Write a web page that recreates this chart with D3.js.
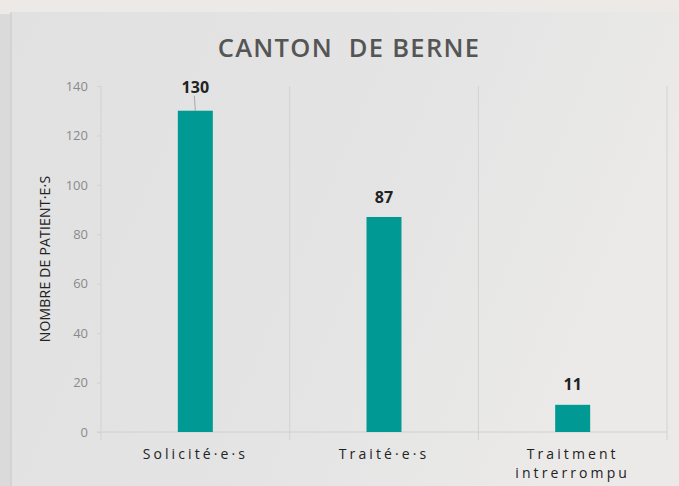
<!DOCTYPE html>
<html>
<head>
<meta charset="utf-8">
<script src="https://cdn.jsdelivr.net/npm/d3@7"></script>
<style>
  body { margin: 0; background: #dcdcdc; }
  svg { display: block; }
</style>
</head>
<body>
<svg id="chart" width="679" height="486"></svg>
<script>
// data
const categories = ["Solicité·e·s", "Traité·e·s", "Traitment intrerrompu"];
const values = [130, 87, 11];
const yTicks = [0, 20, 40, 60, 80, 100, 120, 140];

const svg = d3.select("#chart"),
  width = +svg.attr("width"),
  height = +svg.attr("height");

// background, looks like a photo of a slide
const defs = svg.append("defs");
const grad = defs.append("linearGradient").attr("id", "panelGrad")
  .attr("x1", "0").attr("y1", "0").attr("x2", "1").attr("y2", "0.3");
grad.append("stop").attr("offset", "0").attr("stop-color", "#e1e1e1");
grad.append("stop").attr("offset", "0.6").attr("stop-color", "#e4e4e4");
grad.append("stop").attr("offset", "1").attr("stop-color", "#ebeae9");

svg.append("rect").attr("width", width).attr("height", height).attr("fill", "#dadada");
svg.append("rect").attr("width", width).attr("height", 14).attr("fill", "#ece9e7");
svg.append("rect").attr("x", 11).attr("y", 12).attr("width", width - 11).attr("height", height - 12)
  .attr("fill", "url(#panelGrad)");
svg.append("line").attr("x1", 11).attr("x2", 11).attr("y1", 12).attr("y2", height)
  .attr("stroke", "#cfcfcf").attr("stroke-width", 1.5);

const margin = {top: 86, left: 101, right: 12, bottom: 54};
const x = d3.scaleBand().domain(categories)
  .range([margin.left, width - margin.right]).paddingInner(0).paddingOuter(0);
const y = d3.scaleLinear().domain([0, 140]).range([height - margin.bottom, margin.top]);

// title
svg.append("text")
  .attr("x", 349).attr("y", 57)
  .attr("text-anchor", "middle")
  .attr("font-family", "'Open Sans', sans-serif")
  .attr("font-size", 25.5).attr("font-weight", 600)
  .attr("letter-spacing", 1.3)
  .attr("fill", "#555")
  .style("white-space", "pre")
  .text("CANTON  DE BERNE");

// vertical separators between categories
const seps = categories.map(c => x(c)).concat([x.range()[1]]);
svg.append("g").selectAll("line").data(seps).enter().append("line")
  .attr("x1", d => d).attr("x2", d => d)
  .attr("y1", y(140)).attr("y2", y(0) + 8)
  .attr("stroke", "#d2d2d2").attr("stroke-width", 1);

// y axis
const yAxis = svg.append("g")
  .attr("transform", `translate(${margin.left},0)`)
  .call(d3.axisLeft(y).tickValues(yTicks).tickSize(4).tickPadding(9));
yAxis.select(".domain").remove();
yAxis.selectAll(".tick line").attr("stroke", "#d2d2d2");
yAxis.selectAll(".tick text")
  .attr("font-family", "'Open Sans', sans-serif")
  .attr("font-size", 13).attr("fill", "#8a8a8a");

// baseline
svg.append("line")
  .attr("x1", margin.left - 4).attr("x2", x.range()[1])
  .attr("y1", y(0)).attr("y2", y(0))
  .attr("stroke", "#d0d0d0");

// axis title
svg.append("text")
  .attr("transform", `translate(50,${(y(0) + y(140)) / 2}) rotate(-90)`)
  .attr("text-anchor", "middle")
  .attr("font-family", "'Open Sans', sans-serif")
  .attr("font-size", 14)
  .attr("letter-spacing", 0.2)
  .attr("fill", "#222")
  .text("NOMBRE DE PATIENT·E·S");

// bars
const barW = 35;
svg.append("g").selectAll("rect").data(values).enter().append("rect")
  .attr("x", (d, i) => x(categories[i]) + x.bandwidth() / 2 - barW / 2)
  .attr("y", d => y(d))
  .attr("width", barW)
  .attr("height", d => y(0) - y(d))
  .attr("fill", "#009994");

// leader line for the first label
svg.append("line")
  .attr("x1", x(categories[0]) + x.bandwidth() / 2 - 1).attr("x2", x(categories[0]) + x.bandwidth() / 2)
  .attr("y1", y(values[0]) - 15).attr("y2", y(values[0]))
  .attr("stroke", "#999").attr("stroke-width", 0.8);

// value labels
const labelOffset = [18, 14, 15];
svg.append("g").selectAll("text").data(values).enter().append("text")
  .attr("x", (d, i) => x(categories[i]) + x.bandwidth() / 2)
  .attr("y", (d, i) => y(d) - labelOffset[i])
  .attr("text-anchor", "middle")
  .attr("font-family", "'Open Sans', sans-serif")
  .attr("font-size", 16).attr("font-weight", 700)
  .attr("fill", "#222")
  .text(d => d);

// category labels
const catLines = [["Solicité·e·s"], ["Traité·e·s"], ["Traitment", "intrerrompu"]];
categories.forEach((c, i) => {
  catLines[i].forEach((l, j) => {
    svg.append("text")
      .attr("x", x(c) + x.bandwidth() / 2)
      .attr("y", 459 + j * 19)
      .attr("text-anchor", "middle")
      .attr("font-family", "'Open Sans', sans-serif")
      .attr("font-size", 14)
      .attr("letter-spacing", 3.1)
      .attr("fill", "#222")
      .text(l);
  });
});
</script>
</body>
</html>
